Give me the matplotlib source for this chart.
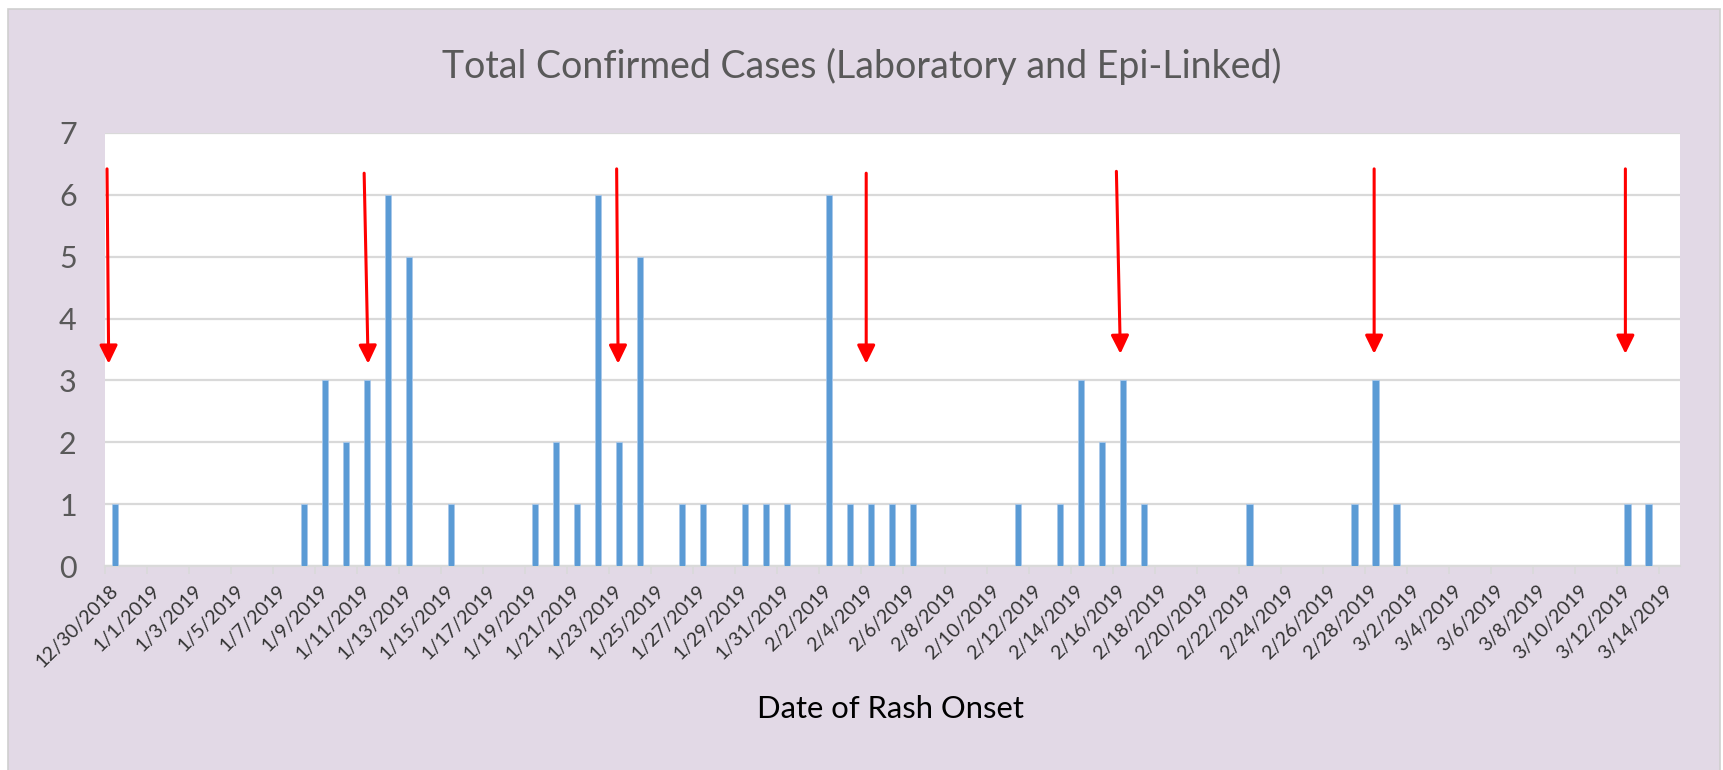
import matplotlib.pyplot as plt
from matplotlib.patches import Rectangle
import numpy as np
import pandas as pd

plt.rcParams['font.family'] = ['Lato', 'DejaVu Sans']

# -------------------------------------------------------------------------------------
# Data: cases by date of rash onset
# -------------------------------------------------------------------------------------
onset_dates = ['12/30/2018', '1/8/2019', '1/9/2019', '1/10/2019', '1/11/2019', '1/12/2019',
               '1/13/2019', '1/15/2019', '1/19/2019', '1/20/2019', '1/21/2019', '1/22/2019',
               '1/23/2019', '1/24/2019', '1/26/2019', '1/27/2019', '1/29/2019', '1/30/2019',
               '1/31/2019', '2/2/2019', '2/3/2019', '2/4/2019', '2/5/2019', '2/6/2019',
               '2/11/2019', '2/13/2019', '2/14/2019', '2/15/2019', '2/16/2019', '2/17/2019',
               '2/22/2019', '2/27/2019', '2/28/2019', '3/1/2019', '3/12/2019', '3/13/2019']
case_counts = [1, 1, 3, 2, 3, 6,
               5, 1, 1, 2, 1, 6,
               2, 5, 1, 1, 1, 1,
               1, 6, 1, 1, 1, 1,
               1, 1, 3, 2, 3, 1,
               1, 1, 3, 1, 1, 1]
first_day = '12/30/2018'
last_day = '3/14/2019'

# red arrows (tail -> tip), x in days from first_day, y in cases
arrow_tails = [(-0.38, 6.42), (11.86, 6.35), (23.88, 6.42), (35.76, 6.35),
               (47.67, 6.38), (59.94, 6.42), (71.9, 6.42)]
arrow_tips = [(-0.30, 3.27), (12.05, 3.27), (23.95, 3.27), (35.76, 3.27),
              (47.86, 3.43), (59.94, 3.43), (71.9, 3.43)]

days = pd.date_range(pd.to_datetime(first_day), pd.to_datetime(last_day), freq='D')
counts = pd.Series(case_counts, index=pd.to_datetime(onset_dates, format='%m/%d/%Y'))
counts = counts.reindex(days, fill_value=0)
x = np.arange(len(days))
labels = [f'{d.month}/{d.day}/{d.year}' for d in days]

# -------------------------------------------------------------------------------------
# Figure
# -------------------------------------------------------------------------------------
W, H = 1723, 770
fig = plt.figure(figsize=(W / 100, H / 100), dpi=100, facecolor='white')
fig.patches.append(Rectangle((8 / W, -0.02), (1720 - 8) / W, 0.02 + (H - 9) / H,
                             transform=fig.transFigure, facecolor='#E2D9E6',
                             edgecolor='#CFCFCF', linewidth=1.2, zorder=-1))

ax = fig.add_axes([104.5 / W, 1 - 566 / H, (1680 - 104.5) / W, (566 - 133) / H])
ax.set_facecolor('white')

ax.bar(x[counts.values > 0], counts.values[counts.values > 0], width=0.3,
       color='#5B9BD5', edgecolor='#A9C8EA', linewidth=0.6, zorder=3)

ax.set_xlim(-0.5, len(days) - 0.5)
ax.set_ylim(0, 7)
ax.set_yticks(np.arange(0, 8, 1))
ax.yaxis.grid(True, color='#D9D9D9', linewidth=1.6, zorder=0)
ax.set_axisbelow(True)
for s in ['left', 'right', 'top']:
    ax.spines[s].set_visible(False)
ax.spines['bottom'].set_color('#D9D9D9')
ax.spines['bottom'].set_linewidth(1.6)
ax.tick_params(axis='y', length=0, pad=20, labelsize=22, labelcolor='#595959')

# labels every two days, tick marks on category boundaries
ax.set_xticks(x[::2])
ax.set_xticklabels(labels[::2], rotation=45, ha='right', va='center',
                   rotation_mode='anchor', fontsize=14, color='#333333')
ax.tick_params(axis='x', length=0, pad=16)
ax.set_xticks(x[::2] - 0.5, minor=True)
ax.tick_params(axis='x', which='minor', length=6, color='#D9D9D9', width=1.2)

for (tx, ty), (hx, hy) in zip(arrow_tails, arrow_tips):
    ax.annotate('', xy=(hx, hy), xytext=(tx, ty), zorder=5,
                arrowprops=dict(arrowstyle='-|>,head_length=0.55,head_width=0.27',
                                mutation_scale=20, color='#FF0000', lw=2.2,
                                shrinkA=0, shrinkB=0))

fig.text(0.5, 1 - 66 / H, 'Total Confirmed Cases (Laboratory and Epi-Linked)',
         ha='center', va='center', fontsize=27, color='#595959')
fig.text(890 / W, 1 - 709 / H, 'Date of Rash Onset', ha='center', va='center',
         fontsize=22.3, color='#000000')

fig.savefig('out.png', dpi=100, facecolor=fig.get_facecolor())
